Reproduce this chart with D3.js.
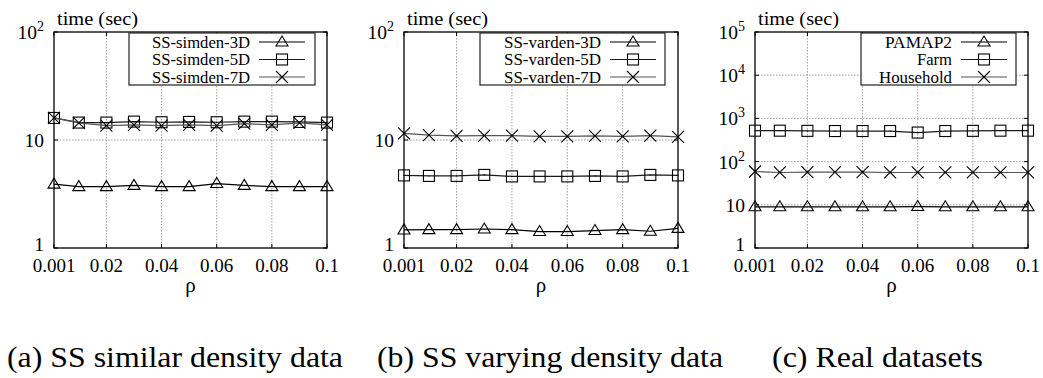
<!DOCTYPE html>
<html>
<head>
<meta charset="utf-8">
<script src="https://cdn.jsdelivr.net/npm/d3@7"></script>
<style>
  body { margin: 0; background: #fff; }
</style>
</head>
<body>
<div id="chart"></div>
<script>
// x values (rho) shared by all panels
const rho = [0.001, 0.01, 0.02, 0.03, 0.04, 0.05, 0.06, 0.07, 0.08, 0.09, 0.1];
const xTicks = [0.001, 0.02, 0.04, 0.06, 0.08, 0.1];
const xTickLabels = ["0.001", "0.02", "0.04", "0.06", "0.08", "0.1"];

// (a) SS similar density
const simden3D = [3.9, 3.7, 3.7, 3.8, 3.7, 3.7, 3.95, 3.8, 3.7, 3.7, 3.7];
const simden5D = [16, 14.5, 14.5, 14.8, 14.6, 14.7, 14.6, 14.8, 14.8, 14.7, 14.5];
const simden7D = [16, 14.4, 13.6, 13.8, 13.6, 13.8, 13.6, 14.2, 13.8, 14.4, 13.8];

// (b) SS varying density
const varden3D = [1.47, 1.48, 1.48, 1.5, 1.48, 1.42, 1.42, 1.45, 1.48, 1.43, 1.52];
const varden5D = [4.7, 4.65, 4.65, 4.75, 4.6, 4.6, 4.6, 4.65, 4.6, 4.75, 4.7];
const varden7D = [11.5, 11.1, 10.9, 11.0, 11.0, 10.8, 10.8, 10.9, 10.8, 11.0, 10.7];

// (c) Real datasets
const pamap2 = [9, 9, 9, 9, 9, 9, 9.1, 9, 9, 9, 9];
const farm = [520, 520, 515, 510, 510, 510, 470, 510, 515, 520, 520];
const household = [59, 56, 57, 57, 57, 56, 56, 56, 56, 56, 56];

const captions = ["(a) SS similar density data", "(b) SS varying density data", "(c) Real datasets"];

const panels = [
  { left: 54, right: 327, yMax: 100, yTicks: [1, 10, 100], yLabels: [["1"], ["10"], ["10", "2"]],
    series: [["SS-simden-3D", simden3D, "tri", 98], ["SS-simden-5D", simden5D, "sq", 98], ["SS-simden-7D", simden7D, "x", 98]],
    legend: { x0: 129, x1: 315, textX: 250 }, caption: { x: 7, w: 336 } },
  { left: 404, right: 678, yMax: 100, yTicks: [1, 10, 100], yLabels: [["1"], ["10"], ["10", "2"]],
    series: [["SS-varden-3D", varden3D, "tri", 97], ["SS-varden-5D", varden5D, "sq", 97], ["SS-varden-7D", varden7D, "x", 97]],
    legend: { x0: 480, x1: 665, textX: 601 }, caption: { x: 377, w: 346 } },
  { left: 755, right: 1028, yMax: 1e5, yTicks: [1, 10, 100, 1e3, 1e4, 1e5],
    yLabels: [["1"], ["10"], ["10", "2"], ["10", "3"], ["10", "4"], ["10", "5"]],
    series: [["PAMAP2", pamap2, "tri", 67], ["Farm", farm, "sq", 35], ["Household", household, "x", 73]],
    legend: { x0: 861, x1: 1016, textX: 952 }, caption: { x: 772, w: 211 } }
];

const lineColors = ["#000", "#1a1a1a", "#555"];
const plotTop = 32, plotBottom = 248;
const serif = "'Liberation Serif', 'Times New Roman', 'DejaVu Serif', serif";

const svg = d3.select("#chart").append("svg").attr("width", 1043).attr("height", 378)
  .attr("font-family", serif);

function drawMarker(g, type, cx, cy) {
  if (type === "tri") {
    g.append("path")
      .attr("d", `M${cx - 6},${cy + 4}L${cx + 6},${cy + 4}L${cx},${cy - 6}Z`)
      .attr("fill", "none").attr("stroke", "#000").attr("stroke-width", 1.1);
  } else if (type === "sq") {
    g.append("rect").attr("x", cx - 5.5).attr("y", cy - 5.5).attr("width", 11).attr("height", 11)
      .attr("fill", "none").attr("stroke", "#000").attr("stroke-width", 1.1);
    g.append("rect").attr("x", cx - 0.5).attr("y", cy - 0.5).attr("width", 1).attr("height", 1).attr("fill", "#000");
  } else {
    g.append("path")
      .attr("d", `M${cx - 6},${cy - 6}L${cx + 6},${cy + 6}M${cx - 6},${cy + 6}L${cx + 6},${cy - 6}`)
      .attr("fill", "none").attr("stroke", "#000").attr("stroke-width", 1.1);
  }
}

panels.forEach((p, pi) => {
  const x = d3.scaleLinear().domain([0.001, 0.1]).range([p.left, p.right]);
  const y = d3.scaleLog().domain([1, p.yMax]).range([plotBottom, plotTop]);
  const g = svg.append("g");

  // grid
  xTicks.slice(1, -1).forEach(t => {
    g.append("line").attr("x1", x(t)).attr("x2", x(t)).attr("y1", plotTop).attr("y2", plotBottom)
      .attr("stroke", "#888").attr("stroke-width", 0.8).attr("stroke-dasharray", "1.5,1.5");
  });
  p.yTicks.slice(1, -1).forEach(t => {
    g.append("line").attr("x1", p.left).attr("x2", p.right).attr("y1", y(t)).attr("y2", y(t))
      .attr("stroke", "#888").attr("stroke-width", 0.8).attr("stroke-dasharray", "1.5,1.5");
  });

  // ticks (inward, mirrored)
  xTicks.forEach(t => {
    g.append("line").attr("x1", x(t)).attr("x2", x(t)).attr("y1", plotBottom).attr("y2", plotBottom - 4).attr("stroke", "#000");
    g.append("line").attr("x1", x(t)).attr("x2", x(t)).attr("y1", plotTop).attr("y2", plotTop + 4).attr("stroke", "#000");
  });
  p.yTicks.forEach(t => {
    g.append("line").attr("x1", p.left).attr("x2", p.left + 4).attr("y1", y(t)).attr("y2", y(t)).attr("stroke", "#000");
    g.append("line").attr("x1", p.right).attr("x2", p.right - 4).attr("y1", y(t)).attr("y2", y(t)).attr("stroke", "#000");
  });

  // series
  const line = d3.line().x((d, i) => x(rho[i])).y(d => y(d));
  p.series.forEach((s, si) => {
    g.append("path").datum(s[1]).attr("d", line)
      .attr("fill", "none").attr("stroke", lineColors[si]).attr("stroke-width", 1.2);
    s[1].forEach((v, i) => drawMarker(g, s[2], x(rho[i]), y(v)));
  });

  // frame
  g.append("rect").attr("x", p.left).attr("y", plotTop).attr("width", p.right - p.left).attr("height", plotBottom - plotTop)
    .attr("fill", "none").attr("stroke", "#000").attr("stroke-width", 1.3);

  // legend
  const L = p.legend;
  g.append("rect").attr("x", L.x0).attr("y", 33).attr("width", L.x1 - L.x0).attr("height", 52)
    .attr("fill", "#fff").attr("stroke", "#222").attr("stroke-width", 1.2);
  p.series.forEach((s, si) => {
    const ly = 42 + si * 17.5;
    g.append("text").attr("x", L.textX).attr("y", ly + 5.5).attr("text-anchor", "end")
      .attr("font-size", 16.5).attr("textLength", s[3]).attr("lengthAdjust", "spacingAndGlyphs").text(s[0]);
    g.append("line").attr("x1", L.textX + 9).attr("x2", L.textX + 55).attr("y1", ly).attr("y2", ly)
      .attr("stroke", lineColors[si]).attr("stroke-width", 1.2);
    drawMarker(g, s[2], L.textX + 32, ly);
  });

  // x tick labels
  xTicks.forEach((t, i) => {
    g.append("text").attr("x", x(t)).attr("y", 272).attr("text-anchor", "middle")
      .attr("font-size", 19).text(xTickLabels[i]);
  });
  g.append("text").attr("x", (p.left + p.right) / 2).attr("y", 292).attr("text-anchor", "middle")
    .attr("font-size", 21).text("ρ");

  // y tick labels
  p.yTicks.forEach((t, i) => {
    const lab = p.yLabels[i];
    const tx = g.append("text").attr("x", p.left - 10).attr("y", y(t) + (i === 0 ? 2.5 : 7)).attr("text-anchor", "end")
      .attr("font-size", 19.5);
    tx.append("tspan").text(lab[0]);
    if (lab[1]) tx.append("tspan").attr("dy", -8).attr("font-size", 14).text(lab[1]);
  });

  // axis title
  g.append("text").attr("x", p.left + 3).attr("y", 25).attr("font-size", 19)
    .attr("textLength", 81).attr("lengthAdjust", "spacingAndGlyphs").text("time (sec)");

  // caption
  g.append("text").attr("x", p.caption.x).attr("y", 367).attr("font-size", 29)
    .attr("textLength", p.caption.w).attr("lengthAdjust", "spacingAndGlyphs").text(captions[pi]);
});
</script>
</body>
</html>
